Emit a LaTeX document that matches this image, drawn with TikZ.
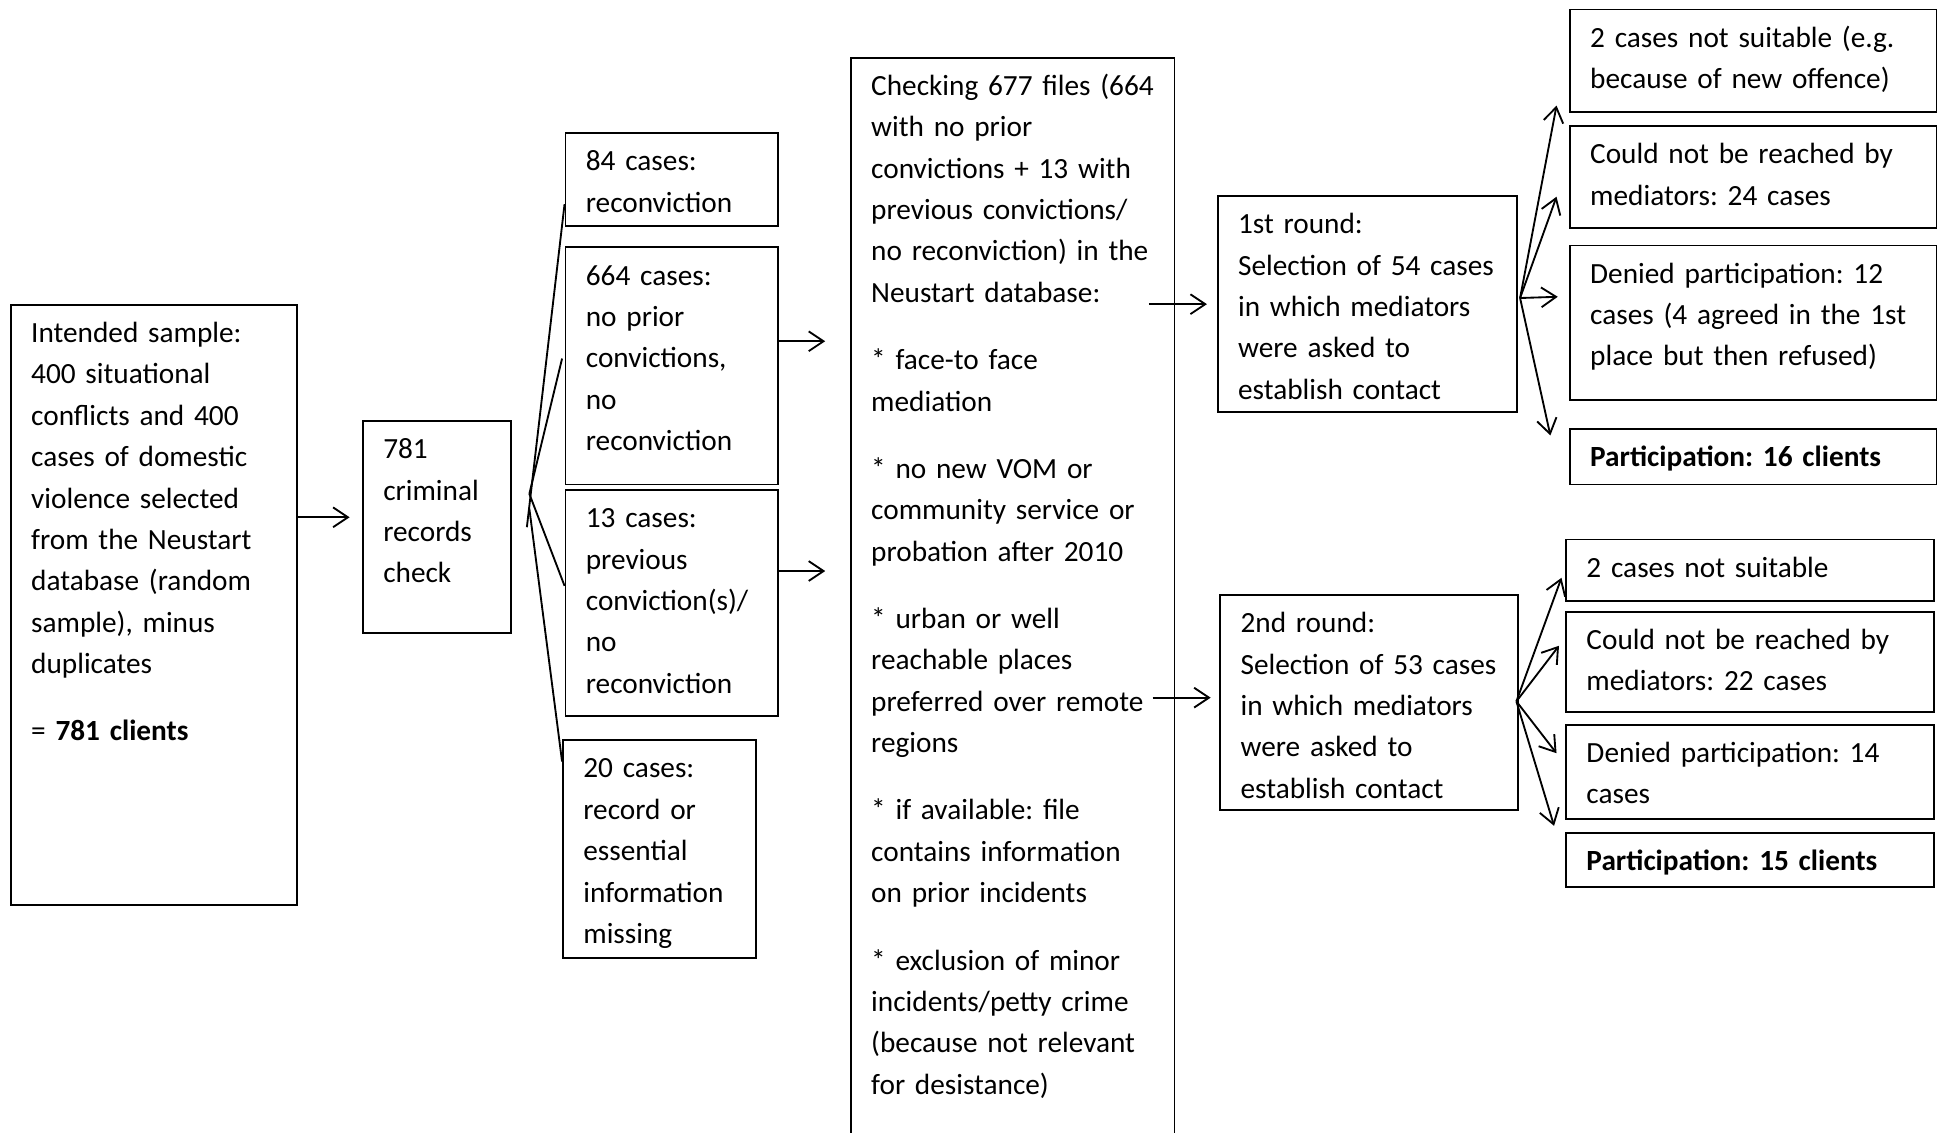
\documentclass[tikz,border=0pt]{standalone}
\usepackage{fontspec}
\setmainfont{Carlito}
\frenchspacing
\usetikzlibrary{positioning, arrows.meta}
\tikzstyle{box} = [rectangle, draw=black, line width=1.5pt, align=left, inner xsep=16.5pt, inner ysep=8pt, text height=22.5pt, anchor=north west, font=\fontsize{23.7}{33.5}\selectfont]
\tikzstyle{link} = [line width=1.5pt]
\tikzstyle{arrow} = [line width=1.5pt,->,>={Straight Barb[length=12pt,width=16pt]}]

\begin{document}
\begin{tikzpicture}[x=1pt, y=-1pt]
\useasboundingbox (0,0) rectangle (1568,917);
\node (sample) [box, text width=199pt, text depth=447.5pt] at (8,246) {Intended sample:\\ 400 situational\\ conflicts and 400\\ cases of domestic\\ violence selected\\ from the Neustart\\ database (random\\ sample), minus\\ duplicates\\[21pt] = \textbf{781 clients}};
\node (check) [box, text width=87pt, text depth=133.5pt] at (293,340) {781\\ criminal\\ records\\ check};
\node (recon) [box, text width=139pt, text depth=36.5pt] at (457,107) {84 cases:\\ reconviction};
\node (noprior) [box, text width=139pt, text depth=153.5pt, below=16pt of recon] {664 cases:\\ no prior\\ convictions,\\ no\\ reconviction};
\node (prev) [box, text width=139pt, text depth=144.5pt, below=3pt of noprior] {13 cases:\\ previous\\ conviction(s)/\\ no\\ reconviction};
\node (missing) [box, text width=123pt, text depth=137.5pt, below=18pt of prev, xshift=-10pt] {20 cases:\\ record or\\ essential\\ information\\ missing};
\node (files) [box, text width=229pt, text depth=915pt] at (688,46) {Checking 677 files (664\\ with no prior\\ convictions + 13 with\\ previous convictions/\\ no reconviction) in the\\ Neustart database:\\[21pt] * face-to face\\ mediation\\[21pt] * no new VOM or\\ community service or\\ probation after 2010\\[21pt] * urban or well\\ reachable places\\ preferred over remote\\ regions\\[21pt] * if available: file\\ contains information\\ on prior incidents\\[21pt] * exclusion of minor\\ incidents/petty crime\\ (because not relevant\\ for desistance)};
\node (round1) [box, text width=209pt, text depth=136.5pt] at (985,158) {1st round:\\ Selection of 54 cases\\ in which mediators\\ were asked to\\ establish contact};
\node (round2) [box, text width=208pt, text depth=135.5pt] at (987,481) {2nd round:\\ Selection of 53 cases\\ in which mediators\\ were asked to\\ establish contact};
\node (unsuit1) [box, text width=264pt, text depth=44.5pt] at (1270,7) {2 cases not suitable (e.g.\\ because of new offence)};
\node (unreach1) [box, text width=264pt, text depth=43.5pt, below=10pt of unsuit1] {Could not be reached by\\ mediators: 24 cases};
\node (denied1) [box, text width=264pt, text depth=86.5pt, below=13pt of unreach1] {Denied participation: 12\\ cases (4 agreed in the 1st\\ place but then refused)};
\node (part1) [box, text width=264pt, text depth=6.5pt, below=22pt of denied1] {\textbf{Participation: 16 clients}};
\node (unsuit2) [box, text width=265pt, text depth=11.5pt] at (1267,436) {2 cases not suitable};
\node (unreach2) [box, text width=265pt, text depth=42.5pt, below=7pt of unsuit2] {Could not be reached by\\ mediators: 22 cases};
\node (denied2) [box, text width=265pt, text depth=37.5pt, below=9pt of unreach2] {Denied participation: 14\\ cases};
\node (part2) [box, text width=265pt, text depth=5.5pt, below=10pt of denied2] {\textbf{Participation: 15 clients}};

\coordinate (intake) at ([yshift=8pt]check.west);
\coordinate (fan) at ([xshift=14pt, yshift=27pt]check.east);
\coordinate (fanlow) at ([xshift=12pt]check.east);
\coordinate (out1) at ([yshift=20pt]noprior.east);
\coordinate (out2) at ([yshift=26pt]prev.east);
\coordinate (sel1) at ([xshift=-55pt]round1.west);
\coordinate (sel2) at ([xshift=-54pt, yshift=4pt]round2.west);
\coordinate (split1) at ([xshift=2pt, yshift=5pt]round1.east);
\coordinate (split2) at ([xshift=-2pt, yshift=1pt]round2.east);

\draw [arrow, shorten >=10pt] (sample.east |- intake) -- (intake);
\draw [link] (fanlow) -- ([yshift=-20pt]recon.west);
\draw [link] (fan) -- ([xshift=-2pt, yshift=6pt]noprior.west);
\draw [link] (fan) -- ([yshift=14pt]prev.west);
\draw [link] ([yshift=-12pt]fan) -- ([yshift=-18pt]missing.north west);
\draw [arrow, shorten >=20pt] (out1) -- (out1 -| files.west);
\draw [arrow, shorten >=20pt] (out2) -- (out2 -| files.west);
\draw [arrow, shorten >=8pt] (sel1) -- (round1.west);
\draw [arrow, shorten >=7pt] (sel2) -- (sel2 -| round2.west);
\draw [arrow] (split1) -- ([xshift=-10pt, yshift=6pt]unsuit1.south west);
\draw [arrow] (split1) -- ([xshift=-10pt, yshift=-16pt]unreach1.west);
\draw [arrow] (split1) -- ([xshift=-9pt, yshift=21pt]denied1.west);
\draw [arrow] (split1) -- ([xshift=-15pt, yshift=-6pt]part1.north west);
\draw [arrow] (split2) -- ([xshift=-3pt, yshift=-6pt]unsuit2.west);
\draw [arrow] (split2) -- ([xshift=-5pt, yshift=13pt]unreach2.west);
\draw [arrow] (split2) -- ([xshift=-7pt, yshift=15pt]denied2.west);
\draw [arrow] (split2) -- ([xshift=-9pt, yshift=5pt]part2.north west);
\end{tikzpicture}
\end{document}
